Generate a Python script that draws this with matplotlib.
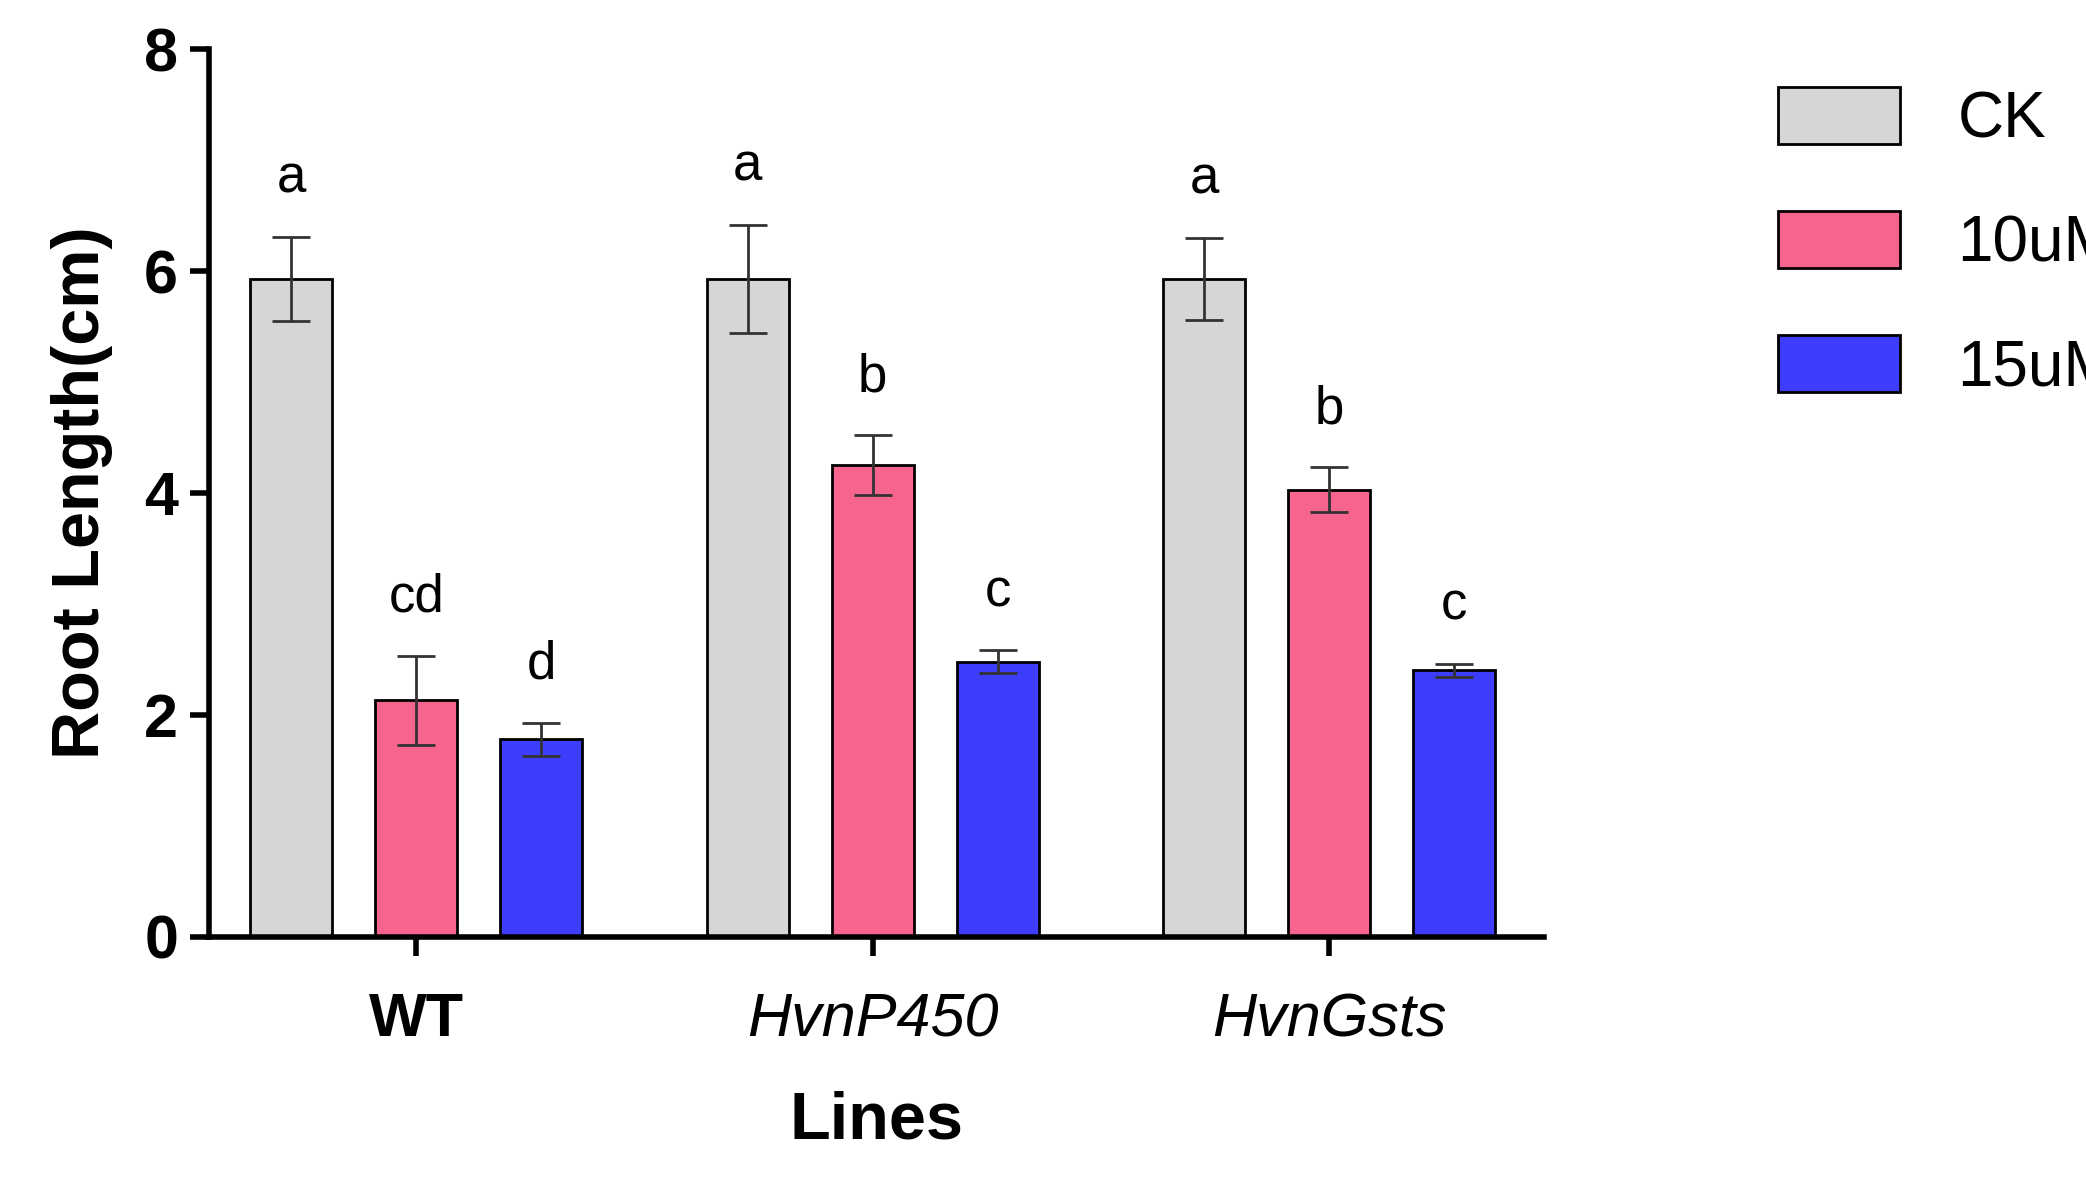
import numpy as np
import matplotlib.pyplot as plt

plt.rcParams['font.family'] = ['Liberation Sans', 'DejaVu Sans']

lines = ['WT', 'HvnP450', 'HvnGsts']
treatments = ['CK', '10uM', '15uM']
colors = ['#d6d6d6', '#f7658f', '#3d3dfb']
means = [[5.93, 5.93, 5.93],
         [2.13, 4.25, 4.03],
         [1.78, 2.48, 2.40]]
errs = [[0.38, 0.49, 0.37],
        [0.40, 0.27, 0.20],
        [0.15, 0.10, 0.06]]
letters = [['a', 'a', 'a'],
           ['cd', 'b', 'b'],
           ['d', 'c', 'c']]

fig = plt.figure(figsize=(20.86, 11.78), dpi=100)
ax = fig.add_axes([0.100, 0.205, 0.640, 0.753])

x = np.arange(len(lines))
w = 0.18
off = 0.274
for i, t in enumerate(treatments):
    xs = x + (i - 1) * off
    ax.bar(xs, means[i], w, color=colors[i], edgecolor='black', linewidth=2, label=t)
    ax.errorbar(xs, means[i], yerr=errs[i], fmt='none', ecolor='#333333',
                elinewidth=2, capsize=14, capthick=2)
    for xx, m, e, l in zip(xs, means[i], errs[i], letters[i]):
        ax.text(xx, m + e + 0.3, l, ha='center', va='bottom', fontsize=38)

ax.set_xlim(-0.455, 2.47)
ax.set_ylim(0, 8)
ax.set_yticks([0, 2, 4, 6, 8])
ax.set_xticks(x)
ax.set_xticklabels(lines, fontsize=44)
labs = ax.get_xticklabels()
labs[0].set_fontweight('bold')
labs[1].set_fontstyle('italic')
labs[2].set_fontstyle('italic')
for lb in ax.get_yticklabels():
    lb.set_fontweight('bold')
    lb.set_fontsize(44)
for s in ['top', 'right']:
    ax.spines[s].set_visible(False)
for s in ['left', 'bottom']:
    ax.spines[s].set_linewidth(4)
ax.tick_params(axis='both', width=4, length=14, pad=8)
ax.tick_params(axis='x', pad=26)
ax.set_ylabel('Root Length(cm)', fontsize=48, fontweight='bold', labelpad=22)
ax.set_xlabel('Lines', fontsize=48, fontweight='bold', labelpad=30)

fig.legend(loc='upper left', bbox_to_anchor=(0.825, 0.975), frameon=False,
           fontsize=46, handlelength=1.9, handleheight=1.0, labelspacing=0.95,
           handletextpad=0.9)
for p in fig.legends[0].get_patches():
    p.set_linewidth(2)

fig.savefig('out.png', dpi=100)
